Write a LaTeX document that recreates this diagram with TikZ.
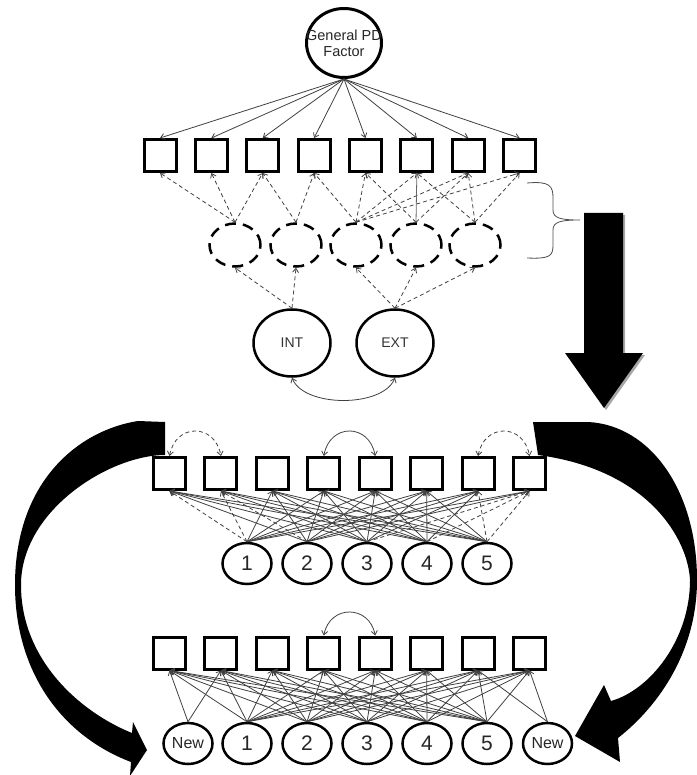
\documentclass[tikz,border=0pt]{standalone}
\usepackage{fontspec}
\setmainfont{Liberation Sans}
\usetikzlibrary{shapes.geometric,arrows.meta}
\begin{document}
\begin{tikzpicture}[x=1pt,y=-1pt,
  sqbox/.style={draw=black, line width=3pt, minimum width=32pt, minimum height=32pt, inner sep=0pt},
  pdnode/.style={ellipse, draw=black, line width=3pt, minimum width=75pt, minimum height=69pt, inner sep=0pt},
  pdtxt/.style={align=center, font=\fontsize{14.5}{16}\selectfont, text=black!85, inner sep=0pt},
  bigfac/.style={ellipse, draw=black, line width=2.5pt, minimum width=77pt, minimum height=67pt, inner sep=0pt, font=\fontsize{14}{14}\selectfont, text=black!80},
  dlat/.style={ellipse, draw=black, line width=2.5pt, dash pattern=on 11pt off 7pt, minimum width=51pt, minimum height=43pt, inner sep=0pt},
  lat/.style={ellipse, draw=black, line width=2.5pt, minimum width=49pt, minimum height=41pt, inner sep=0pt, font=\fontsize{21}{21}\selectfont, text=black!85},
  newlat/.style={lat, font=\fontsize{16}{16}\selectfont},
  ar/.style={draw=black!75, line width=0.8pt, -{Straight Barb[length=4pt,width=6pt]}},
  dar/.style={ar, dash pattern=on 4pt off 3pt},
  biar/.style={draw=black!75, line width=0.8pt, {Straight Barb[length=4pt,width=6pt]}-{Straight Barb[length=4pt,width=6pt]}},
  dbiar/.style={biar, dash pattern=on 4pt off 3pt},
  blk/.style={fill=black, draw=none},
  shd/.style={fill=black!35, draw=none}
]
\useasboundingbox (0,0) rectangle (696,775);

% ---------- top section ----------
\node[pdnode] (pd) at (344,43) {};
\node[pdtxt] (pdt) at (344,43) {General PD\\Factor};
\foreach \i in {1,...,8} \node[sqbox] (t\i) at ({160+51.37*(\i-1)},155.5) {};
\foreach \x [count=\i] in {235,296,356,416,475} \node[dlat] (e\i) at (\x,245) {};
\node[bigfac] (int) at (292,343) {INT};
\node[bigfac] (ext) at (395,343) {EXT};

\foreach \i in {1,...,8} \draw[ar] (pd.south) -- (t\i.north);
\foreach \e/\t in {1/1,1/2,1/3,2/3,2/4,3/4,3/5,3/6,3/7,3/8,4/5,4/7,5/6,5/7,5/8}
  \draw[dar] (e\e.north) -- (t\t.south);
\draw[draw=black!60, line width=0.8pt] (e4.north) -- (t6.south);
\foreach \e in {1,2} \draw[dar] (int.north) -- (e\e.south);
\foreach \e in {3,4,5} \draw[dar] (ext.north) -- (e\e.south);
\draw[biar] (int.south) .. controls +(12,30) and +(-12,30) .. (ext.south);

% brace
\draw[draw=black!70, line width=0.8pt] (527,183) .. controls (550,181) and (553,186) .. (553,198) -- (553,210)
  .. controls (553,218) and (560,220) .. (580,220) .. controls (560,220) and (553,222) .. (553,230)
  -- (553,245) .. controls (553,256) and (550,259) .. (527,258);

% big down arrow
\fill[shd] (586,215) -- (625,215) -- (625,355) -- (645,355) -- (606,410) -- (567,355) -- (586,355) -- cycle;
\fill[blk] (584,213) -- (623,213) -- (623,353) -- (643,353) -- (604,408) -- (565,353) -- (584,353) -- cycle;

% ---------- middle section ----------
\foreach \i in {1,...,8} \node[sqbox] (m\i) at ({169.5+51.43*(\i-1)},473.5) {};
\foreach \i in {1,...,5} \node[lat] (c\i) at ({247+60*(\i-1)},563.5) {\i};

\foreach \j in {3,...,8} \draw[ar] (c1.north) -- (m\j.south);
\foreach \j in {1,3,4,5,6,7,8} \draw[ar] (c2.north) -- (m\j.south);
\foreach \j in {1,...,7} \draw[ar] (c3.north) -- (m\j.south);
\foreach \j in {1,...,7} \draw[ar] (c4.north) -- (m\j.south);
\foreach \j in {1,...,6} \draw[ar] (c5.north) -- (m\j.south);
\foreach \i/\j in {1/1,1/2,2/2,3/8,4/8,5/7,5/8} \draw[dar] (c\i.north) -- (m\j.south);

\draw[dbiar] (m1.north) .. controls +(6,-33) and +(-6,-33) .. (m2.north);
\draw[biar] (m4.north) .. controls +(6,-33) and +(-6,-33) .. (m5.north);
\draw[dbiar] (m7.north) .. controls +(6,-33) and +(-6,-33) .. (m8.north);

% ---------- bottom section ----------
\foreach \i in {1,...,8} \node[sqbox] (q\i) at ({169.5+51.43*(\i-1)},653) {};
\node[newlat] (nl) at (188,743.5) {New};
\foreach \i in {1,...,5} \node[lat] (b\i) at ({247+60*(\i-1)},743.5) {\i};
\node[newlat] (nr) at (547.5,743.5) {New};

\foreach \j in {1,2} \draw[ar] (nl.north) -- (q\j.south);
\foreach \j in {7,8} \draw[ar] (nr.north) -- (q\j.south);
\foreach \i in {1,...,5} \foreach \j in {1,...,8} \draw[ar] (b\i.north) -- (q\j.south);
\draw[biar] (q4.north) .. controls +(6,-31) and +(-6,-31) .. (q5.north);

% ---------- big curved arrows ----------
\fill[blk] (165,422) -- (138,421) .. controls (80,430) and (15,480) .. (15,585)
  .. controls (15,670) and (60,735) .. (131,762) -- (130,776) -- (147,750) -- (133,722) -- (132,733)
  .. controls (80,712) and (21,660) .. (21,585) .. controls (21,510) and (110,455) .. (165,455) -- cycle;
\fill[blk] (533,422) -- (588,422) .. controls (650,425) and (697,490) .. (697,580)
  .. controls (697,650) and (660,705) .. (618,738) -- (620,762) -- (575,736) -- (604,685) -- (611,701)
  .. controls (650,690) and (690,640) .. (690,580) .. controls (688,540) and (650,470) .. (538,455) -- cycle;
\end{tikzpicture}
\end{document}
